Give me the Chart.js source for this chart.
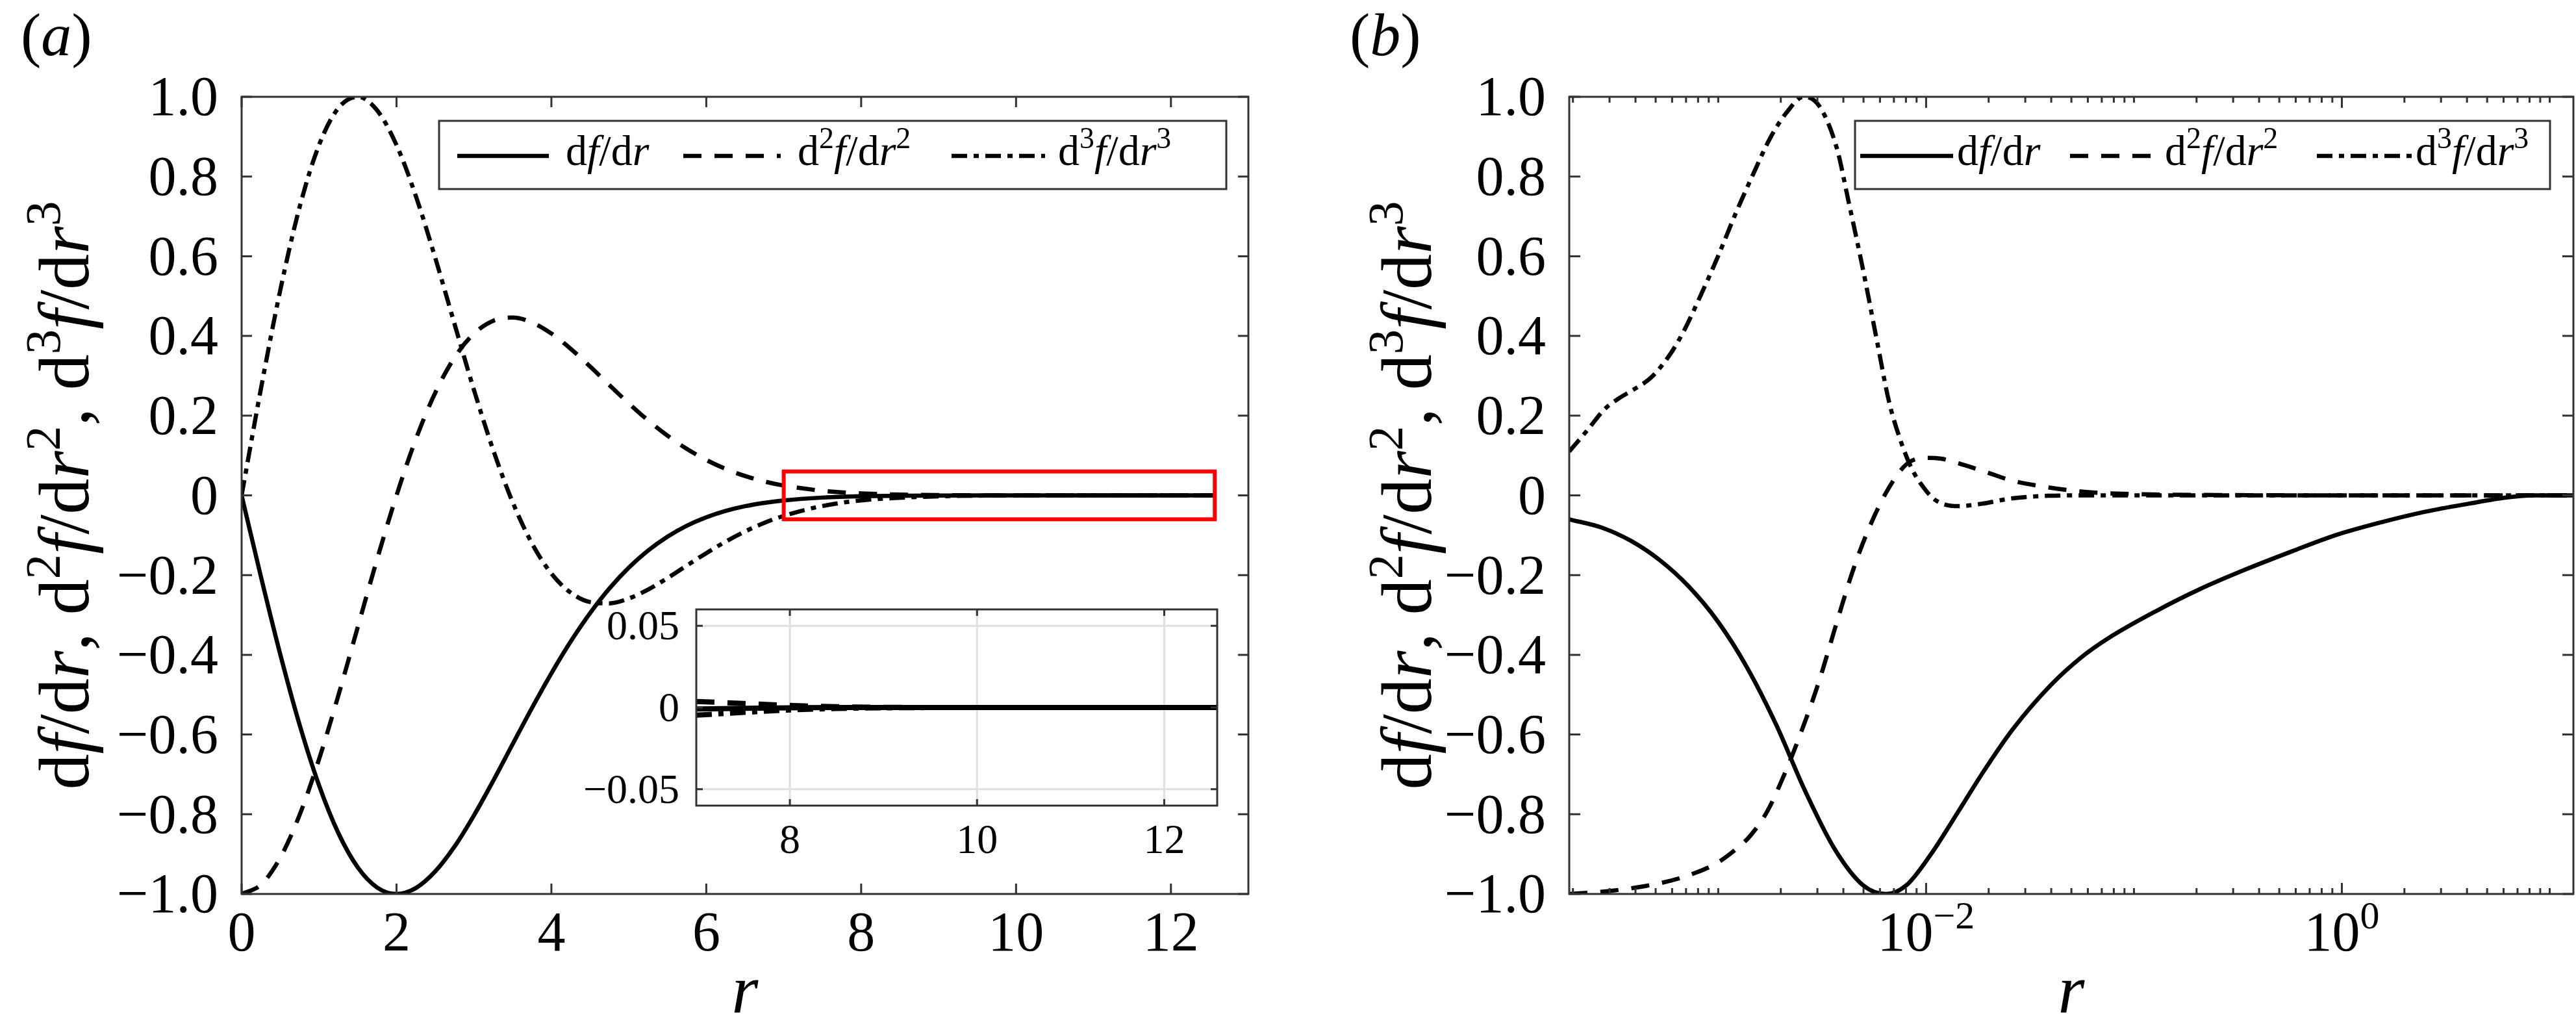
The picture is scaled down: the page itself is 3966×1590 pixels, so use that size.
<!DOCTYPE html>
<html>
<head>
<meta charset="utf-8">
<script src="https://cdn.jsdelivr.net/npm/chart.js@4.4.1/dist/chart.umd.min.js"></script>
<style>
  html, body { margin: 0; padding: 0; background: #fff; }
  #wrap { position: relative; width: 3966px; height: 1590px; overflow: hidden; background: #fff; }
  canvas { position: absolute; }
</style>
</head>
<body>
<div id="wrap">
  <canvas id="chartA" width="1983" height="1590" style="left:0;top:0;width:1983px;height:1590px"></canvas>
  <canvas id="chartIn" width="1060" height="430" style="left:850px;top:900px;width:1060px;height:430px"></canvas>
  <canvas id="chartB" width="1983" height="1590" style="left:1983px;top:0;width:1983px;height:1590px"></canvas>
</div>
<script>
// ---- panel (a): linear r ----
const rA = [0, 0.25, 0.5, 0.75, 1, 1.25, 1.5, 1.75, 2, 2.25, 2.5, 2.75, 3, 3.25, 3.5, 3.75, 4, 4.25, 4.5, 4.75,
            5, 5.25, 5.5, 5.75, 6, 6.25, 6.5, 6.75, 7, 7.5, 8, 9, 10, 11, 12, 12.57];
const dfA = [0, -0.2045, -0.3995, -0.5763, -0.7275, -0.8476, -0.9334, -0.9838, -1.0, -0.9851, -0.9435, -0.8809,
             -0.8029, -0.7155, -0.6240, -0.5330, -0.4463, -0.3664, -0.2952, -0.2333, -0.1811, -0.1381, -0.1034,
             -0.0760, -0.0550, -0.0390, -0.0272, -0.0187, -0.0126, -0.0055, -0.0022, -0.0003, 0, 0, 0, 0];
const d2fA = [-1, -0.9767, -0.9087, -0.8010, -0.6619, -0.5013, -0.3302, -0.1598, 0, 0.1411, 0.2575, 0.3461,
              0.4058, 0.4382, 0.4461, 0.4337, 0.4060, 0.3677, 0.3233, 0.2765, 0.2307, 0.1879, 0.1496, 0.1165,
              0.0889, 0.0664, 0.0486, 0.0349, 0.0246, 0.0116, 0.0050, 0.0008, 0.0001, 0, 0, 0];
const d3fA = [0, 0.2682, 0.5157, 0.7242, 0.8792, 0.9720, 0.9999, 0.9660, 0.8790, 0.7509, 0.5961, 0.4295,
              0.2646, 0.1130, -0.0171, -0.1208, -0.1961, -0.2441, -0.2676, -0.2708, -0.2587, -0.2361, -0.2073,
              -0.1759, -0.1449, -0.1160, -0.0905, -0.0689, -0.0514, -0.0266, -0.0126, -0.0023, -0.0003, 0, 0, 0];

// ---- inset of (a) ----
const rIn = [7, 7.5, 8, 8.5, 9, 10, 11, 12, 12.57];
const dfIn = [-0.0009, -0.0005, -0.0002, 0, 0, 0, 0, 0, 0];
const d2fIn = [0.0037, 0.0025, 0.0013, 0.0005, 0.0001, 0, 0, 0, 0];
const d3fIn = [-0.0047, -0.0030, -0.0015, -0.0006, -0.0002, 0, 0, 0, 0];

// ---- panel (b): log r ----
const rB1 = [1.92e-4, 2.76e-4, 3.80e-4, 5.25e-4, 7.23e-4, 9.98e-4, 1.37e-3, 1.90e-3, 2.61e-3, 3.61e-3, 4.97e-3,
             6.43e-3, 8.04e-3, 1.04e-2, 1.43e-2, 1.85e-2, 2.60e-2, 3.98e-2, 5.62e-2, 7.60e-2, 0.127, 0.206, 0.344,
             0.578, 0.931, 1.56, 2.52, 4.06, 6.28, 8.30, 13];
const dfB = [-0.060, -0.081, -0.114, -0.163, -0.229, -0.317, -0.430, -0.575, -0.740, -0.885, -0.978, -1.0,
             -0.978, -0.905, -0.793, -0.700, -0.588, -0.476, -0.405, -0.357, -0.291, -0.236, -0.186, -0.140,
             -0.100, -0.067, -0.041, -0.021, -0.005, 0, 0];
const rB2 = [1.92e-4, 2.94e-4, 4.47e-4, 6.56e-4, 9.66e-4, 1.17e-3, 1.42e-3, 1.72e-3, 2.08e-3, 2.53e-3, 3.07e-3,
             3.72e-3, 4.51e-3, 5.47e-3, 6.62e-3, 8.04e-3, 9.75e-3, 1.18e-2, 1.53e-2, 1.98e-2, 2.55e-2, 3.57e-2,
             5.75e-2, 0.105, 0.25, 1, 13];
const d2fB = [-1.0, -0.993, -0.980, -0.960, -0.925, -0.895, -0.855, -0.793, -0.700, -0.588, -0.463, -0.318,
              -0.179, -0.067, 0.019, 0.078, 0.094, 0.092, 0.076, 0.057, 0.038, 0.023, 0.009, 0.003, 0.001, 0, 0];
const rB3 = [1.92e-4, 2.35e-4, 2.85e-4, 3.34e-4, 3.93e-4, 4.76e-4, 5.78e-4, 6.78e-4, 8.22e-4, 9.98e-4, 1.21e-3,
             1.47e-3, 1.78e-3, 2.15e-3, 2.57e-3, 3.07e-3, 3.72e-3, 4.23e-3, 4.97e-3, 5.83e-3, 6.62e-3, 7.53e-3,
             8.57e-3, 9.75e-3, 1.11e-2, 1.43e-2, 1.85e-2, 2.55e-2, 3.86e-2, 5.75e-2, 13];
const d3fB = [0.110, 0.164, 0.217, 0.244, 0.266, 0.296, 0.349, 0.409, 0.501, 0.600, 0.706, 0.805, 0.897, 0.963,
              1.0, 0.976, 0.871, 0.739, 0.567, 0.382, 0.237, 0.138, 0.065, 0.019, -0.012, -0.027, -0.021, -0.008,
              -0.001, 0, 0];

// ticks
const yTicks = [-1, -0.8, -0.6, -0.4, -0.2, 0, 0.2, 0.4, 0.6, 0.8, 1];
const xTicksA = [0, 2, 4, 6, 8, 10, 12];
const xTicksIn = [8, 10, 12];
const yTicksIn = [-0.05, 0, 0.05];
const xTicksB = [1e-2, 1];
const xLabelsB = [[['10', ''], ['\u22122', 's']], [['10', ''], ['0', 's']]];
const zoomBox = [7, 12.566, -0.06, 0.06];

const SERIF = '"Liberation Serif"';
const AXIS = '#333';
const DASH = [28, 20];
const DASHDOT = [24, 10, 8, 10];

// text helpers (italic / superscript runs)
function font(size, italic) { return (italic ? 'italic ' : '') + Math.round(size) + 'px ' + SERIF; }

function runsWidth(ctx, runs, size) {
  let w = 0;
  runs.forEach(([t, st]) => {
    ctx.font = font(st.includes('s') ? size * 0.7 : size, st.includes('i'));
    w += ctx.measureText(t).width;
  });
  return w;
}

function drawRuns(ctx, runs, x, y, size, align) {
  const w = runsWidth(ctx, runs, size);
  let cx = align === 'center' ? x - w / 2 : align === 'right' ? x - w : x;
  ctx.textAlign = 'left';
  ctx.textBaseline = 'alphabetic';
  ctx.fillStyle = '#000';
  runs.forEach(([t, st]) => {
    const sup = st.includes('s');
    ctx.font = font(sup ? size * 0.7 : size, st.includes('i'));
    ctx.fillText(t, cx, sup ? y - size * 0.4 : y);
    cx += ctx.measureText(t).width;
  });
}

function fmt(v, dec) {
  if (Math.abs(v) < 1e-9) return '0';
  return (v < 0 ? '\u2212' : '') + Math.abs(v).toFixed(dec);
}

const labD1 = [['d', ''], ['f', 'i'], ['/d', ''], ['r', 'i']];
const labD2 = [['d', ''], ['2', 's'], ['f', 'i'], ['/d', ''], ['r', 'i'], ['2', 's']];
const labD3 = [['d', ''], ['3', 's'], ['f', 'i'], ['/d', ''], ['r', 'i'], ['3', 's']];
const yTitle = [...labD1, [', ', ''], ...labD2, [', ', ''], ...labD3];

function drawFrame(chart, o) {
  const { ctx, chartArea: a, scales: { x, y } } = chart;
  ctx.save();
  ctx.strokeStyle = AXIS;
  ctx.lineWidth = o.lw;
  ctx.setLineDash([]);
  ctx.beginPath();
  const xt = (v, len) => {
    const px = x.getPixelForValue(v);
    ctx.moveTo(px, a.bottom); ctx.lineTo(px, a.bottom - len);
    ctx.moveTo(px, a.top); ctx.lineTo(px, a.top + len);
  };
  o.xTicks.forEach(v => xt(v, o.len));
  (o.xMinor || []).forEach(v => xt(v, o.minorLen));
  o.yTicks.forEach(v => {
    const py = y.getPixelForValue(v);
    ctx.moveTo(a.left, py); ctx.lineTo(a.left + o.len, py);
    ctx.moveTo(a.right, py); ctx.lineTo(a.right - o.len, py);
  });
  ctx.stroke();
  ctx.strokeRect(a.left, a.top, a.right - a.left, a.bottom - a.top);
  ctx.restore();
}

function drawYLabels(chart, ticks, dec, size, gap) {
  const { ctx, chartArea: a, scales: { y } } = chart;
  ticks.forEach(v => drawRuns(ctx, [[fmt(v, dec), '']], a.left - gap, y.getPixelForValue(v) + size * 0.33, size, 'right'));
}

function drawLegend(ctx, box, items, lineY, baseY, size) {
  ctx.save();
  ctx.fillStyle = '#fff';
  ctx.fillRect(box[0], box[1], box[2] - box[0], box[3] - box[1]);
  ctx.strokeStyle = AXIS;
  ctx.lineWidth = 3;
  ctx.strokeRect(box[0], box[1], box[2] - box[0], box[3] - box[1]);
  items.forEach(it => {
    ctx.beginPath();
    ctx.strokeStyle = '#000';
    ctx.lineWidth = 6.5;
    ctx.setLineDash(it.dash);
    ctx.moveTo(it.x0, lineY); ctx.lineTo(it.x1, lineY);
    ctx.stroke();
    ctx.setLineDash([]);
    drawRuns(ctx, it.runs, it.tx, baseY, size, 'left');
  });
  ctx.restore();
}

function curve(xs, ys, dash, width) {
  return {
    data: xs.map((r, i) => ({ x: r, y: ys[i] })),
    borderColor: '#000', borderWidth: width, borderDash: dash,
    pointRadius: 0, fill: false, cubicInterpolationMode: 'monotone'
  };
}

const baseOpts = (padding, xScale, yMin, yMax) => ({
  responsive: false, animation: false, devicePixelRatio: 1, events: [],
  layout: { padding },
  plugins: { legend: { display: false }, tooltip: { enabled: false } },
  scales: { x: xScale, y: { type: 'linear', min: yMin, max: yMax, display: false } }
});

// ===== panel (a) =====
new Chart(document.getElementById('chartA'), {
  type: 'line',
  data: { datasets: [curve(rA, dfA, [], 6.5), curve(rA, d2fA, DASH, 6.5), curve(rA, d3fA, DASHDOT, 6.5)] },
  options: baseOpts({ left: 372, top: 149, right: 61, bottom: 214 },
    { type: 'linear', min: 0, max: 13, display: false }, -1, 1),
  plugins: [{
    id: 'decorA',
    afterDatasetsDraw(chart) {
      const { ctx, chartArea: a, scales: { x, y } } = chart;
      // red zoom box
      ctx.save();
      ctx.strokeStyle = '#ff0000';
      ctx.lineWidth = 6;
      const x0 = x.getPixelForValue(zoomBox[0]), x1 = x.getPixelForValue(zoomBox[1]);
      const y0 = y.getPixelForValue(zoomBox[3]), y1 = y.getPixelForValue(zoomBox[2]);
      ctx.strokeRect(x0, y0, x1 - x0, y1 - y0);
      ctx.restore();
      drawFrame(chart, { lw: 3, len: 16, xTicks: xTicksA, yTicks });
      drawYLabels(chart, yTicks, 1, 86, 36);
      xTicksA.forEach(v => drawRuns(ctx, [[String(v), '']], x.getPixelForValue(v), 1463, 86, 'center'));
      drawRuns(ctx, [['r', 'i']], (a.left + a.right) / 2, 1558, 105, 'center');
      ctx.save();
      ctx.translate(136, (a.top + a.bottom) / 2);
      ctx.rotate(-Math.PI / 2);
      drawRuns(ctx, yTitle, 0, 0, 110, 'center');
      ctx.restore();
      drawRuns(ctx, [['(', ''], ['a', 'i'], [')', '']], 32, 85, 94, 'left');
      drawLegend(ctx, [676, 186, 1888, 291], [
        { x0: 704, x1: 845, dash: [], tx: 871, runs: labD1 },
        { x0: 1052, x1: 1202, dash: DASH, tx: 1228, runs: labD2 },
        { x0: 1465, x1: 1609, dash: DASHDOT, tx: 1629, runs: labD3 }
      ], 240, 254, 66);
    }
  }]
});

// ===== inset =====
new Chart(document.getElementById('chartIn'), {
  type: 'line',
  data: { datasets: [curve(rIn, dfIn, [], 8), curve(rIn, d2fIn, DASH, 8), curve(rIn, d3fIn, DASHDOT, 8)] },
  options: baseOpts({ left: 222, top: 38, right: 36, bottom: 90 },
    { type: 'linear', min: 7, max: 12.566, display: false }, -0.06, 0.06),
  plugins: [{
    id: 'decorIn',
    beforeDatasetsDraw(chart) {
      const { ctx, chartArea: a, scales: { x, y } } = chart;
      ctx.save();
      ctx.fillStyle = '#fff';
      ctx.fillRect(a.left, a.top, a.right - a.left, a.bottom - a.top);
      ctx.strokeStyle = '#e0e0e0';
      ctx.lineWidth = 3;
      ctx.beginPath();
      xTicksIn.forEach(v => { const px = x.getPixelForValue(v); ctx.moveTo(px, a.top); ctx.lineTo(px, a.bottom); });
      yTicksIn.forEach(v => { const py = y.getPixelForValue(v); ctx.moveTo(a.left, py); ctx.lineTo(a.right, py); });
      ctx.stroke();
      ctx.restore();
    },
    afterDatasetsDraw(chart) {
      const { ctx, scales: { x } } = chart;
      drawFrame(chart, { lw: 3, len: 10, xTicks: xTicksIn, yTicks: yTicksIn });
      drawYLabels(chart, yTicksIn, 2, 64, 26);
      xTicksIn.forEach(v => drawRuns(ctx, [[String(v), '']], x.getPixelForValue(v), 413, 64, 'center'));
    }
  }]
});

// ===== panel (b) =====
const minorB = [];
for (let e = -4; e <= 1; e++) {
  for (let k = 1; k <= 9; k++) {
    const v = k * Math.pow(10, e);
    if (v >= 1.92e-4 && v <= 13 && !xTicksB.some(t => Math.abs(t - v) < 1e-12)) minorB.push(v);
  }
}
new Chart(document.getElementById('chartB'), {
  type: 'line',
  data: { datasets: [curve(rB1, dfB, [], 6.5), curve(rB2, d2fB, DASH, 6.5), curve(rB3, d3fB, DASHDOT, 6.5)] },
  options: baseOpts({ left: 433, top: 149, right: 4, bottom: 214 },
    { type: 'logarithmic', min: 1.92e-4, max: 13, display: false }, -1, 1),
  plugins: [{
    id: 'decorB',
    afterDatasetsDraw(chart) {
      const { ctx, chartArea: a, scales: { x } } = chart;
      drawFrame(chart, { lw: 3, len: 17, minorLen: 9, xTicks: xTicksB, xMinor: minorB, yTicks });
      drawYLabels(chart, yTicks, 1, 86, 36);
      xTicksB.forEach((v, i) => drawRuns(ctx, xLabelsB[i], x.getPixelForValue(v), 1463, 86, 'center'));
      drawRuns(ctx, [['r', 'i']], (a.left + a.right) / 2, 1558, 105, 'center');
      ctx.save();
      ctx.translate(220, (a.top + a.bottom) / 2);
      ctx.rotate(-Math.PI / 2);
      drawRuns(ctx, yTitle, 0, 0, 110, 'center');
      ctx.restore();
      drawRuns(ctx, [['(', ''], ['b', 'i'], [')', '']], 95, 85, 94, 'left');
      drawLegend(ctx, [873, 186, 1943, 291], [
        { x0: 881, x1: 1024, dash: [], tx: 1030, runs: labD1 },
        { x0: 1204, x1: 1344, dash: DASH, tx: 1350, runs: labD2 },
        { x0: 1584, x1: 1730, dash: DASHDOT, tx: 1736, runs: labD3 }
      ], 240, 254, 66);
    }
  }]
});
</script>
</body>
</html>
